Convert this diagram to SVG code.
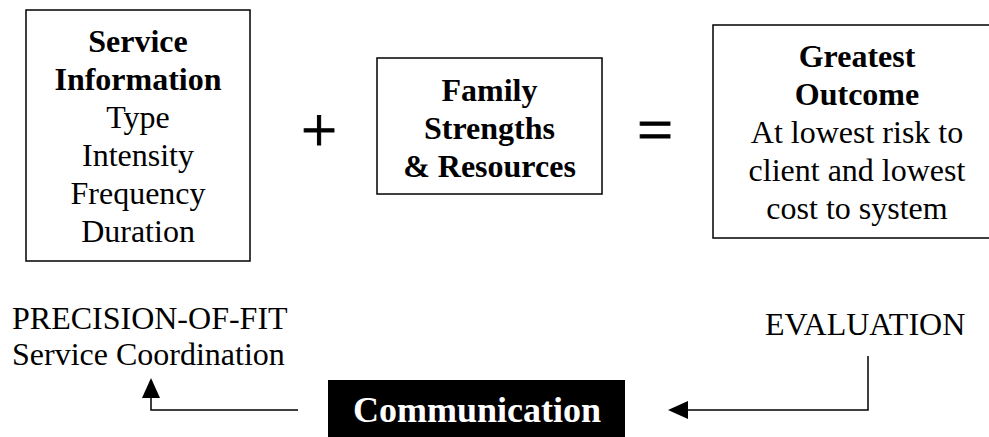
<svg xmlns="http://www.w3.org/2000/svg" width="989" height="437" viewBox="0 0 989 437">
<style>
  text { font-family: "Liberation Serif", "Times New Roman", serif; font-size: 32px; fill: #000; }
  .c { text-anchor: middle; }
  .b { font-weight: bold; }
  .box { fill: #fff; stroke: #000; stroke-width: 1.5; }
  .conn { fill: none; stroke: #000; stroke-width: 1.5; }
  .op { font-size: 64px; text-anchor: middle; stroke: #000; stroke-width: 1; }
</style>
<defs>
  <marker id="ah" viewBox="0 0 20 18" refX="0" refY="9" markerWidth="20" markerHeight="18" markerUnits="userSpaceOnUse" orient="auto-start-reverse">
    <path d="M0,0 L20,9 L0,18 Z" fill="#000"/>
  </marker>
</defs>
<rect width="989" height="437" fill="#fff"/>
<g id="service-information">
  <rect class="box" x="26" y="10" width="224" height="251"/>
  <text class="c b" x="138" y="52">Service</text>
  <text class="c b" x="138" y="90">Information</text>
  <text class="c" x="138" y="128">Type</text>
  <text class="c" x="138" y="166">Intensity</text>
  <text class="c" x="138" y="204">Frequency</text>
  <text class="c" x="138" y="242">Duration</text>
</g>
<g id="plus">
  <text class="op" x="319" y="152">+</text>
</g>
<g id="family-strengths">
  <rect class="box" x="377" y="58" width="225" height="136"/>
  <text class="c b" x="489.5" y="101">Family</text>
  <text class="c b" x="489.5" y="139">Strengths</text>
  <text class="c b" x="489.5" y="177">&amp; Resources</text>
</g>
<g id="equals">
  <text class="op" x="655" y="151">=</text>
</g>
<g id="greatest-outcome">
  <rect class="box" x="713" y="25" width="300" height="213"/>
  <text class="c b" x="857" y="67">Greatest</text>
  <text class="c b" x="857" y="105">Outcome</text>
  <text class="c" x="857" y="143">At lowest risk to</text>
  <text class="c" x="857" y="181">client and lowest</text>
  <text class="c" x="857" y="219">cost to system</text>
</g>
<g id="precision-of-fit">
  <text x="12" y="329">PRECISION-OF-FIT</text>
  <text x="12" y="365">Service Coordination</text>
</g>
<g id="evaluation">
  <text x="765" y="335">EVALUATION</text>
</g>
<g id="communication">
  <rect x="328" y="380" width="297" height="70" fill="#000"/>
  <text class="c b" x="477" y="422" style="font-size:36px;fill:#fff">Communication</text>
</g>
<g id="connectors">
  <path class="conn" d="M298,410 H151 V398" marker-end="url(#ah)"/>
  <path class="conn" d="M868,356 V410 H688" marker-end="url(#ah)"/>
</g>
</svg>
